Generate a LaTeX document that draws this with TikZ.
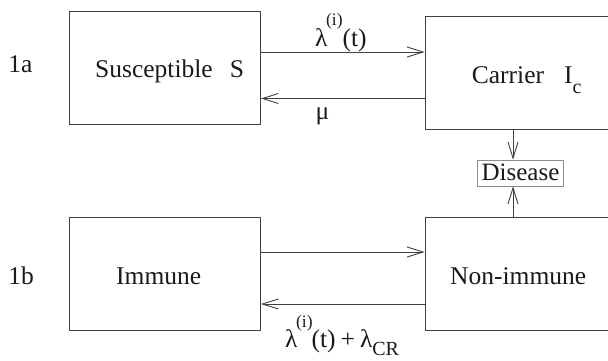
\documentclass[tikz,border=0pt]{standalone}
\usepackage{fontspec}
\setmainfont{Liberation Serif}
\usetikzlibrary{arrows.meta}
\definecolor{ln}{HTML}{404040}
\definecolor{tx}{HTML}{1A1A1A}
\definecolor{dz}{HTML}{8C8C8C}
\begin{document}
\begin{tikzpicture}[x=1pt,y=-1pt,
  box/.style={draw=ln,line width=0.9pt,anchor=north west,inner sep=0pt},
  arr/.style={draw=ln,line width=0.9pt,-{Straight Barb[length=16pt,width=10pt]}},
  lbl/.style={inner sep=0pt,text=tx,font=\fontsize{25.5}{30}\selectfont},
  dis/.style={draw=dz,line width=0.8pt,text=tx,font=\fontsize{25}{30}\selectfont,
    text height=15pt,text depth=0pt,inner xsep=4pt,inner ysep=5.5pt}]
\useasboundingbox (0,0) rectangle (608,360);
\clip (0,0) rectangle (608,360);
% boxes
\node[box,minimum width=191.4pt,minimum height=113.3pt] (S) at (68.6,10.7) {};
\node[box,minimum width=200pt,minimum height=113.3pt] (C) at (424.6,15.7) {};
\node[box,minimum width=191.4pt,minimum height=113pt] (I) at (68.6,217) {};
\node[box,minimum width=200pt,minimum height=113pt] (N) at (424.6,217) {};
\node[dis,anchor=base] (D) at (520.5,180.5) {Disease};
% connectors
\draw[arr] (S.east |- 0,52) -- (C.west |- 0,52);
\draw[arr] (C.west |- 0,98.5) -- (S.east |- 0,98.5);
\draw[arr] (I.east |- 0,252) -- (N.west |- 0,252);
\draw[arr] (N.west |- 0,304) -- (I.east |- 0,304);
\draw[arr] (C.south -| 513,0) -- (D.north -| 513,0);
\draw[arr] (N.north -| 513,0) -- (D.south -| 513,0);
% texts
\node[lbl,anchor=base west] (la) at (8.3,72.3) {1a};
\node[lbl,anchor=base west] (lb) at (8.3,284.5) {1b};
\node[lbl,anchor=base west] (tS) at (95,77.7) {Susceptible\hspace{17pt}S};
\node[lbl,anchor=base west] (tC) at (471.7,83.3) {Carrier\hspace{20pt}I\raisebox{-10pt}{\fontsize{20}{22}\selectfont c}};
\node[lbl,anchor=base west] (tI) at (116,284) {Immune};
\node[lbl,anchor=base west] (tN) at (450,284) {Non-immune};
\node[lbl,anchor=base west] (r1) at (315,46.5) {λ\kern-1.5pt\raisebox{21.5pt}{\fontsize{17.5}{20}\selectfont(i)}\kern0pt(t)};
\node[lbl,anchor=base west] (r2) at (315.5,119.5) {μ};
\node[lbl,anchor=base west] (r3) at (285,347) {λ\kern-1.5pt\raisebox{20pt}{\fontsize{17.5}{20}\selectfont(i)}\kern-1pt(t)\hspace{5pt}+\hspace{5pt}λ\raisebox{-8pt}{\fontsize{20}{22}\selectfont CR}};
\end{tikzpicture}
\end{document}
